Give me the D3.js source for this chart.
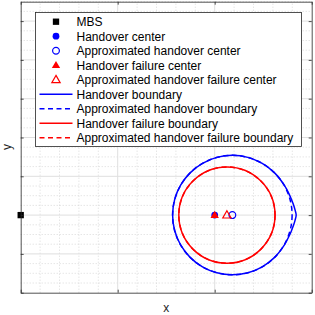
<!DOCTYPE html>
<html>
<head>
<meta charset="utf-8">
<title>Handover boundary</title>
<script src="https://cdn.jsdelivr.net/npm/d3@7/dist/d3.min.js"></script>
<style>
  body { margin: 0; background: #fff; }
  svg { display: block; font-family: "Liberation Sans", Arial, Helvetica, sans-serif; }
  .grid-major { stroke: #dfdfdf; stroke-width: 1; }
  .grid-minor { stroke: #d0d0d0; stroke-width: 0.8; stroke-dasharray: 1,2; }
  .frame path, .frame line { stroke: #262626; stroke-width: 0.8; }
</style>
</head>
<body>
<svg id="chart" width="315" height="315"></svg>
<script>
// positions (m), MBS at origin
var mbs = [0, 0];
var handoverCenter = [1000, 0];
var approxHandoverCenter = [1091, 0];
var failureCenter = [1000, 0];
var approxFailureCenter = [1063, 0];

var approxHandoverRadius = 308;
var failureRadius = 248;
var approxFailureRadius = 248;

// exact handover boundary around approxHandoverCenter, [angle deg, radius m]
// upper half only, it is symmetric; cusp points towards +x
var handoverBoundaryHalf = [[0, 329], [5, 324], [10, 319], [15, 315], [20, 312], [25, 310], [30, 309],
  [45, 308], [60, 308], [75, 308], [90, 308], [105, 308], [120, 308], [135, 308], [150, 308], [165, 308], [180, 308]];

var xMajor = [0, 500, 1000, 1500];
var xMinorStep = 100;
var yMajor = [-400, -200, 0, 200, 400, 600, 800, 1000];
var yMinorStep = 50;

var legendLabels = ['MBS', 'Handover center', 'Approximated handover center', 'Handover failure center',
  'Approximated handover failure center', 'Handover boundary', 'Approximated handover boundary',
  'Handover failure boundary', 'Approximated handover failure boundary'];

var svg = d3.select('#chart');
var x = d3.scaleLinear().domain([0, 1500]).range([20.7, 311.7]);
var y = d3.scaleLinear().domain([-400, 1100]).range([292.7, 1.7]);
var px = function(r) { return x(r) - x(0); };

// grid
var g = svg.append('g');
var xMinor = d3.range(0, 1501, xMinorStep).filter(function(v) { return xMajor.indexOf(v) < 0; });
var yMinor = d3.range(-400, 1101, yMinorStep).filter(function(v) { return yMajor.indexOf(v) < 0; });
g.selectAll('.vmin').data(xMinor).enter().append('line').attr('class', 'grid-minor')
  .attr('x1', x).attr('x2', x).attr('y1', y(-400)).attr('y2', y(1100));
g.selectAll('.hmin').data(yMinor).enter().append('line').attr('class', 'grid-minor')
  .attr('y1', y).attr('y2', y).attr('x1', x(0)).attr('x2', x(1500));
g.selectAll('.vmaj').data(xMajor.slice(1, -1)).enter().append('line').attr('class', 'grid-major')
  .attr('x1', x).attr('x2', x).attr('y1', y(-400)).attr('y2', y(1100));
g.selectAll('.hmaj').data(yMajor.slice(1)).enter().append('line').attr('class', 'grid-major')
  .attr('y1', y).attr('y2', y).attr('x1', x(0)).attr('x2', x(1500));

// boundaries
var ring = handoverBoundaryHalf.concat(handoverBoundaryHalf.slice(1, -1).reverse().map(function(d) { return [360 - d[0], d[1]]; }));
var exactPts = ring.map(function(d) {
  var a = d[0] * Math.PI / 180;
  return [approxHandoverCenter[0] + d[1] * Math.cos(a), approxHandoverCenter[1] + d[1] * Math.sin(a)];
});
var line = d3.line().x(function(d) { return x(d[0]); }).y(function(d) { return y(d[1]); }).curve(d3.curveCatmullRomClosed);

svg.append('path').attr('d', line(exactPts)).attr('fill', 'none').attr('stroke', '#0000ff').attr('stroke-width', 1.5);
svg.append('circle').attr('cx', x(approxHandoverCenter[0])).attr('cy', y(approxHandoverCenter[1])).attr('r', px(approxHandoverRadius))
  .attr('fill', 'none').attr('stroke', '#0000ff').attr('stroke-width', 1.5).attr('stroke-dasharray', '5,3.5');
svg.append('circle').attr('cx', x(approxFailureCenter[0])).attr('cy', y(approxFailureCenter[1])).attr('r', px(failureRadius))
  .attr('fill', 'none').attr('stroke', '#ff0000').attr('stroke-width', 1.5);
svg.append('circle').attr('cx', x(approxFailureCenter[0])).attr('cy', y(approxFailureCenter[1])).attr('r', px(approxFailureRadius))
  .attr('fill', 'none').attr('stroke', '#ff0000').attr('stroke-width', 1.5).attr('stroke-dasharray', '5,3.5');

// markers
var sq = d3.symbol().type(d3.symbolSquare).size(40);
var dot = d3.symbol().type(d3.symbolCircle).size(36);
var tri = d3.symbol().type(d3.symbolTriangle).size(30);
var markers = [
  { p: mbs, sym: sq, fill: '#000', stroke: 'none' },
  { p: handoverCenter, sym: dot, fill: '#0000ff', stroke: 'none' },
  { p: approxHandoverCenter, sym: dot, fill: 'none', stroke: '#0000ff' },
  { p: failureCenter, sym: tri, fill: '#ff0000', stroke: 'none' },
  { p: approxFailureCenter, sym: tri, fill: 'none', stroke: '#ff0000' }
];
svg.selectAll('.mk').data(markers).enter().append('path')
  .attr('transform', function(d) { return 'translate(' + x(d.p[0]) + ',' + (y(d.p[1]) + (d.sym === tri ? 0.5 : 0)) + ')'; })
  .attr('d', function(d) { return d.sym(); })
  .attr('fill', function(d) { return d.fill; }).attr('stroke', function(d) { return d.stroke; }).attr('stroke-width', 1.2);

// frame with inward ticks
var fr = svg.append('g').attr('class', 'frame');
fr.append('g').attr('transform', 'translate(0,' + y(-400) + ')')
  .call(d3.axisBottom(x).tickValues(xMajor).tickSizeInner(-3).tickSizeOuter(0).tickFormat(''));
fr.append('g').attr('transform', 'translate(0,' + y(1100) + ')')
  .call(d3.axisTop(x).tickValues(xMajor).tickSizeInner(-3).tickSizeOuter(0).tickFormat(''));
fr.append('g').attr('transform', 'translate(' + x(0) + ',0)')
  .call(d3.axisLeft(y).tickValues(yMajor).tickSizeInner(-3).tickSizeOuter(0).tickFormat(''));
fr.append('g').attr('transform', 'translate(' + x(1500) + ',0)')
  .call(d3.axisRight(y).tickValues(yMajor).tickSizeInner(-3).tickSizeOuter(0).tickFormat(''));

// legend
var lg = svg.append('g');
lg.append('rect').attr('x', 35.5).attr('y', 12.5).attr('width', 266).attr('height', 134)
  .attr('fill', '#fff').attr('stroke', '#262626').attr('stroke-width', 0.8);
var rowY = function(i) { return 21.7 + i * 14.5; };
markers.forEach(function(m, i) {
  lg.append('path').attr('transform', 'translate(56,' + (rowY(i) + (m.sym === tri ? 0.5 : 0)) + ')')
    .attr('d', m.sym()).attr('fill', m.fill).attr('stroke', m.stroke).attr('stroke-width', 1.2);
});
var lineKeys = [
  { c: '#0000ff', dash: null }, { c: '#0000ff', dash: '5,3.5' },
  { c: '#ff0000', dash: null }, { c: '#ff0000', dash: '5,3.5' }
];
lineKeys.forEach(function(k, j) {
  lg.append('line').attr('x1', 39.5).attr('x2', 72.5).attr('y1', rowY(j + 5)).attr('y2', rowY(j + 5))
    .attr('stroke', k.c).attr('stroke-width', 1.5).attr('stroke-dasharray', k.dash);
});
lg.selectAll('.lt').data(legendLabels).enter().append('text')
  .attr('x', 76.5).attr('y', function(d, i) { return rowY(i) + 4.3; })
  .attr('font-size', 12).attr('fill', '#000').text(function(d) { return d; });

// axis labels
svg.append('text').attr('x', 166.2).attr('y', 311.5).attr('text-anchor', 'middle')
  .attr('font-size', 12).attr('fill', '#262626').text('x');
svg.append('text').attr('transform', 'translate(11.2,147) rotate(-90)').attr('text-anchor', 'middle')
  .attr('font-size', 12).attr('fill', '#262626').text('y');
</script>
</body>
</html>
